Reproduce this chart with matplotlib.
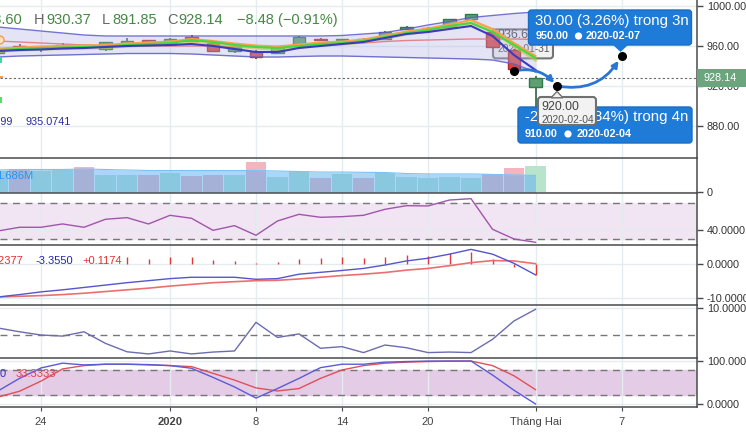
import numpy as np
import matplotlib.pyplot as plt
from matplotlib.patches import Rectangle, FancyBboxPatch, FancyArrowPatch, Polygon, Circle
from matplotlib.transforms import IdentityTransform

plt.rcParams['font.family'] = ['Liberation Sans', 'DejaVu Sans']

W, H = 746, 438

# trading days 20 Dec 2019 .. 3 Feb 2020 -> bar index 0..25
opens = [953, 960, 957.7, 957.7, 961, 957.3, 962.3, 965.7, 960.7, 969, 962.7, 955.3, 954.3,
         953.3, 960, 967, 966.3, 967.3, 967.3, 976.7, 977, 978.7, 986.7, 974.3, 956, 918.6]
highs = [958, 962, 959.3, 962.7, 961.5, 964, 968, 966, 968, 971.3, 963, 959, 956,
         960, 970, 968, 967.5, 968, 975, 980, 979, 987, 992, 978, 957, 930.37]
lows = [951, 958, 954.3, 957, 958, 955, 962, 960, 960, 964, 955, 953.3, 946.7,
        952, 959, 965, 966, 966, 966, 976, 976.5, 978, 986, 958, 935, 891.85]
closes = [957, 959, 958.3, 961, 959, 963.7, 965, 961, 967, 965.3, 955.3, 958.7, 948.7,
          959.3, 969.3, 965.7, 966.7, 966.7, 974, 979.3, 978.3, 986.7, 991.7, 959.3, 936.62, 928.14]

# overlays on price
bb_upper = [979, 977, 975, 973, 971, 970, 970, 970, 970, 970, 970, 970, 970,
            970, 970, 970, 970.5, 972, 973.5, 977, 981, 984.5, 988.5, 990.5, 992.5, 994]
bb_lower = [949, 950, 950.5, 951, 951.5, 952, 952.5, 952.5, 952.5, 952, 951, 950, 949,
            949, 949.5, 950, 950, 949.5, 949, 948.5, 948, 947.5, 947, 946, 942, 934]
ma_blue = [955, 956, 956.5, 957.5, 958, 959, 960, 960.5, 961, 962, 960, 957, 954,
           954, 958, 960, 962, 964, 968, 972, 974, 977, 980, 970, 951, 936]
ma_green = [956, 957, 958, 958.5, 959, 959.5, 961, 962, 963, 966, 964, 961, 959,
            958, 960, 962, 963, 965, 969, 973, 976, 980, 983, 974, 961, 948]
ma_orange = [957.5, 958.5, 959.5, 960, 960.5, 961, 962.5, 963.5, 964.5, 967, 965, 962.5, 960.5,
             959.5, 961.5, 963.5, 964.5, 966.5, 970.5, 974.5, 977.5, 981.5, 986, 977, 963, 950]
ma_yellow = [955, 956, 957, 957.5, 958, 958.5, 960, 961, 962, 965, 963, 960, 958,
             957, 959, 961, 962, 964, 968, 972, 975, 979, 983, 975, 960, 946]
ma_pink = [965, 964, 963, 962, 961, 960.5, 960, 960, 960, 960, 960, 959.5, 959,
           959.5, 960.5, 961, 962, 963, 964.5, 965.5, 966, 966.5, 967, 967, 967, 966.5]

# volume (millions) and its moving average
volume = [2.16, 2.33, 2.13, 2.23, 2.56, 1.74, 1.74, 1.74, 1.96, 1.64, 1.74, 1.74, 3.03,
          1.57, 2.13, 1.44, 1.84, 1.44, 1.96, 1.57, 1.47, 1.57, 1.47, 1.84, 2.43, 2.66]
vol_ma = [2.23, 2.28, 2.28, 2.28, 2.33, 2.28, 2.23, 2.18, 2.18, 2.18, 2.18, 2.18, 2.18,
          2.13, 2.08, 2.03, 2.03, 2.0, 1.98, 1.88, 1.84, 1.84, 1.84, 1.79, 1.74, 1.69]

rsi = [38.9, 43.0, 43.0, 46.7, 43.0, 51.9, 53.7, 46.7, 56.3, 53.0, 39.6, 44.8, 34.1,
       50.0, 57.4, 54.1, 54.8, 56.3, 63.0, 67.0, 66.7, 73.3, 74.8, 40.8, 30.0, 26.3]

macd = [-9.7, -9.0, -8.2, -7.6, -6.9, -6.2, -5.5, -4.9, -4.3, -3.9, -3.9, -3.9, -4.5,
        -4.3, -3.0, -2.45, -1.9, -1.3, -0.3, 0.9, 1.7, 2.9, 4.3, 2.9, 0.2, -3.2]
signal = [-9.7, -9.5, -9.3, -9.0, -8.6, -8.1, -7.6, -7.1, -6.5, -6.0, -5.5, -5.2, -4.9,
          -4.8, -4.4, -3.9, -3.4, -3.0, -2.5, -1.8, -1.3, -0.5, 0.4, 1.0, 0.9, 0.1]
hist = [np.nan] * 6 + [2.15, 1.38, 2.15, 2.15, 1.18, 0.97, 0.38, 0.68, 1.38, 1.68, 2.15,
                       1.68, 2.15, 2.65, 2.35, 3.14, 3.63, 1.47, -0.8, -3.3]

momentum = [2.6, 1.2, 0.0, -0.4, 1.2, -3.1, -6.2, -7.0, -5.9, -7.0, -6.3, -5.9, 4.7,
            -0.9, 0.4, -4.9, -4.3, -6.5, -3.7, -4.7, -6.5, -6.3, -6.5, -1.6, 5.2, 9.5]

stoch_k = [30.3, 59.6, 83.9, 95, 91, 92.6, 92.6, 91.8, 89.4, 83.2, 61.9, 39.7, 13.7,
           35.9, 59.6, 84.6, 92.6, 92.6, 97.4, 98.8, 100, 100, 100, 67.4, 31.9, 0]
stoch_d = [16.1, 29.6, 53.2, 81.6, 89.4, 92.6, 92.6, 91, 89.4, 87, 71.4, 55.6, 37.4,
           30.3, 35.9, 59.6, 79.2, 89.4, 95, 97.4, 98.8, 99.7, 100, 89.4, 65.7, 33.3]

# projection drawing (bar index, price)
proj_x = [24, 26, 29]
proj_y = [935, 920, 950]

tick_pos = [2, 8, 12, 16, 20, 25, 29]
tick_labels = ['24', '2020', '8', '14', '20', 'Tháng Hai', '7']

x = np.arange(len(closes))
XL, XR = 2 / 21.5, 699 / 21.5
LINE = '#4a4a4a'
GRID = '#e4ecf0'

fig = plt.figure(figsize=(W / 100, H / 100), dpi=100)


def pane(top, bottom, ylim, yticks, ylabels, last=False):
    ax = fig.add_axes([0, 1 - bottom / H, 697 / W, (bottom - top) / H])
    ax.set_xlim(XL, XR)
    ax.set_ylim(*ylim)
    ax.spines['left'].set_visible(False)
    ax.spines['bottom'].set_visible(last)
    for s in ['top', 'right', 'bottom']:
        ax.spines[s].set_color(LINE)
        ax.spines[s].set_linewidth(1.1)
    ax.yaxis.tick_right()
    ax.set_yticks(yticks)
    ax.set_yticklabels(ylabels)
    ax.tick_params(axis='y', length=4, width=1, color=LINE, labelsize=7.8,
                   labelcolor='#333333', pad=3)
    ax.set_xticks(tick_pos)
    if last:
        ax.set_xticklabels(tick_labels)
        ax.tick_params(axis='x', length=3, color=LINE, labelsize=8, labelcolor='#444444', pad=4)
        ax.get_xticklabels()[1].set_fontweight('bold')
    else:
        ax.tick_params(axis='x', length=0, labelbottom=False)
    ax.grid(True, color=GRID, lw=1)
    ax.set_axisbelow(True)
    return ax


def fig_text(px, py, s, **kw):
    fig.text(px / W, 1 - py / H, s, **kw)


# ---------------- price pane ----------------
ax = pane(0, 158, (848, 1006), [880, 920, 960, 1000],
          ['880.00', '920.00', '960.00', '1000.00'])
ax.spines['top'].set_visible(False)

ax.axhline(closes[-1], color='#666666', lw=0.8, ls=(0, (2, 2)), zorder=1.5)

for i in x:
    up = closes[i] >= opens[i]
    fc = '#5f9f72' if up else '#d8463f'
    ec = '#2f7a45' if up else '#b3262a'
    wk = '#24553a' if up else '#6e1e1e'
    ax.vlines(i, lows[i], highs[i], color=wk, lw=1.1, zorder=3)
    lo = min(opens[i], closes[i])
    ax.add_patch(Rectangle((i - 0.3, lo), 0.6, max(abs(closes[i] - opens[i]), 0.5),
                           fc=fc, ec=ec, lw=1, zorder=3))

ax.fill_between(x, bb_lower, bb_upper, color='#b4b4e6', alpha=0.35, lw=0, zorder=4)
ax.plot(x, bb_upper, color='#5c5cc8', lw=1, alpha=0.85, zorder=4.5)
ax.plot(x, bb_lower, color='#5c5cc8', lw=1, alpha=0.85, zorder=4.5)
ax.plot(x, ma_pink, color='#e57373', lw=1, alpha=0.85, zorder=5)
ax.plot(x, ma_yellow, color='#c8c43a', lw=2.4, alpha=0.6, zorder=5)
ax.plot(x, ma_orange, color='#f7a34a', lw=1.5, zorder=5)
ax.plot(x, ma_green, color='#45d845', lw=1.5, zorder=5)
ax.plot(x, ma_blue, color='#3b3bbf', lw=1.5, zorder=5)

# projection arrows
blue = '#2a76d2'
ax.add_patch(FancyArrowPatch((proj_x[0], proj_y[0]), (proj_x[1], proj_y[1]),
                             connectionstyle='arc3,rad=-0.3', arrowstyle='-|>',
                             mutation_scale=9, lw=2, color=blue, shrinkA=0, shrinkB=3,
                             zorder=8))
ax.add_patch(FancyArrowPatch((proj_x[1], proj_y[1]), (proj_x[2], proj_y[2]),
                             connectionstyle='arc3,rad=0.35', arrowstyle='-|>',
                             mutation_scale=9, lw=2, color=blue, shrinkA=0, shrinkB=4,
                             zorder=8))
ax.plot(proj_x, proj_y, 'o', color='black', ms=5.5, zorder=9)

ID = IdentityTransform()


def to_px(xv, yv):
    dx, dy = ax.transData.transform((xv, yv))
    return dx, H - dy


def box(x0, y0, x1, y1, fc, ec, lw, z, alpha=1.0):
    ax.add_patch(FancyBboxPatch((x0, H - y1), x1 - x0, y1 - y0,
                                boxstyle='round,pad=0,rounding_size=3', fc=fc, ec=ec,
                                lw=lw, alpha=alpha, transform=ID, zorder=z, clip_on=False))


def tri(pts, fc, ec, z):
    ax.add_patch(Polygon([(px, H - py) for px, py in pts], closed=True, fc=fc, ec=ec,
                         lw=1, transform=ID, zorder=z, clip_on=False))


def t(px, py, s, z=12, **kw):
    ax.text(px, H - py, s, transform=ID, va='center', zorder=z, **kw)


def clock(px, py, z):
    ax.add_patch(Circle((px, H - py), 3.6, fc='white', ec='none', transform=ID, zorder=z))


# gray label at 2020-01-31 close
ax0, ay0 = to_px(24, closes[24])
box(ax0 - 21, ay0 - 40, ax0 + 39, ay0 - 11, '#f2f2f2', '#6d6d6d', 1.5, 2.5, alpha=0.95)
t(ax0 - 17, ay0 - 34, '936.62', z=2.6, fontsize=8.9, color='#444444')
t(ax0 - 17, ay0 - 20, '2020-01-31', z=2.6, fontsize=7.4, color='#555555')

# top blue label (target 950 on 2020-02-07)
bx, by = to_px(proj_x[2], proj_y[2])
box(bx - 93, by - 46, bx + 70, by - 11, '#1f7bd8', '#1a6cc4', 1, 10)
tri([(bx - 8, by - 11.5), (bx + 6, by - 11.5), (bx - 1, by - 5)], '#1f7bd8', '#1f7bd8', 10)
t(bx - 87, by - 35.5, '30.00 (3.26%) trong 3n', fontsize=10.8, color='white')
t(bx - 86, by - 20, '950.00', fontsize=7.8, color='white', fontweight='bold')
clock(bx - 43, by - 20, 12)
t(bx - 36, by - 20, '2020-02-07', fontsize=7.8, color='white', fontweight='bold')

# bottom blue label (target 910 on 2020-02-04)
cx, cy = to_px(proj_x[1], 910)
box(cx - 39, cy + 11, cx + 135, cy + 47, '#1f7bd8', '#1a6cc4', 1, 10)
t(cx - 32, cy + 21.5, '-26.62 (-2.84%) trong 4n', fontsize=10.8, color='white')
t(cx - 32, cy + 38, '910.00', fontsize=7.8, color='white', fontweight='bold')
clock(cx + 11, cy + 38, 12)
t(cx + 20, cy + 38, '2020-02-04', fontsize=7.8, color='white', fontweight='bold')

# gray label at the 920 point
gx, gy = to_px(proj_x[1], proj_y[1])
box(gx - 19, gy + 11, gx + 39, gy + 39, '#f2f2f2', '#707070', 1.5, 13)
tri([(gx - 6, gy + 11.8), (gx + 6, gy + 11.8), (gx, gy + 5.5)], '#f2f2f2', '#707070', 13)
t(gx - 16, gy + 21, '920.00', z=14, fontsize=8.9, color='#444444')
t(gx - 16, gy + 34, '2020-02-04', z=14, fontsize=7.4, color='#555555')

# OHLC header
hdr = [(22, '918.60', '#448844', 'right'), (34, 'H', '#666666', 'left'),
       (46, '930.37', '#448844', 'left'), (102, 'L', '#666666', 'left'),
       (112, '891.85', '#448844', 'left'), (167, 'C', '#666666', 'left'),
       (178, '928.14', '#448844', 'left'), (237, '\u22128.48 (\u22120.91%)', '#448844', 'left')]
for px, s, c, ha in hdr:
    fig_text(px, 20, s, fontsize=10.5, color=c, ha=ha, va='center')
fig_text(13, 122, '948.1399', fontsize=7.8, color='#2b2ba0', ha='right', va='center')
fig_text(25, 122, '935.0741', fontsize=7.8, color='#2b2ba0', ha='left', va='center')

# cut-off legend icons on the left edge
fig.add_artist(Circle((0, H - 40), 4, fc='#fde0c0', ec='#f5a040', lw=1, transform=ID))
fig.add_artist(Rectangle((0, H - 63), 2, 6, fc='#3fd6a0', transform=ID))
fig.add_artist(Rectangle((0, H - 78), 3, 2, fc='#f5a040', transform=ID))
fig.add_artist(Rectangle((0, H - 103), 2, 6, fc='#55dd66', transform=ID))

# last price tag on the right axis
lx, ly = to_px(x[-1], closes[-1])
fig.add_artist(Rectangle((697, H - ly - 9), 49, 18, fc='#6ba57d', ec='none',
                         transform=ID, zorder=5))
fig_text(704, ly, '928.14', fontsize=7.8, color='white', va='center', zorder=6)

# ---------------- volume pane ----------------
av = pane(158, 193, (-0.05, 3.42), [0], ['0'])
vcol = ['#b9e4cc' if closes[i] >= opens[i] else '#f3b5bf' for i in x]
av.bar(x, volume, width=0.95, color=vcol, zorder=2)
av.fill_between(x, 0, vol_ma, color='#5aaef0', alpha=0.5, lw=0, zorder=3)
av.plot(x, vol_ma, color='#7cc2f4', lw=0.8, zorder=3)
fig_text(33, 176, '1.686M', fontsize=8, color='#2196f3', ha='right', va='center')

# ---------------- RSI pane ----------------
ar = pane(193, 245, (23.3, 81.1), [40], ['40.0000'])
ar.axhspan(30, 70, color='#f1e4f3', zorder=0.5)
ar.axhline(70, color='#777777', lw=1, ls=(0, (5, 4)))
ar.axhline(30, color='#777777', lw=1, ls=(0, (5, 4)))
ar.plot(x, rsi, color='#a056aa', lw=1, zorder=3)

# ---------------- MACD pane ----------------
am = pane(245, 305, (-12.06, 5.59), [0, -10], ['0.0000', '-10.0000'])
am.vlines(x, 0, hist, color='#e53935', lw=1, zorder=2)
am.plot(x, signal, color='#ec6f6f', lw=1.2, zorder=3)
am.plot(x, macd, color='#5555cc', lw=1, zorder=3)
fig_text(23, 261.5, '-3.2377', fontsize=8, color='#e03030', ha='right', va='center')
fig_text(35, 261.5, '-3.3550', fontsize=8, color='#2525b0', ha='left', va='center')
fig_text(82, 261.5, '+0.1174', fontsize=8, color='#e03030', ha='left', va='center')

# ---------------- momentum pane ----------------
ao = pane(305, 358, (-8.5, 11.1), [10], ['10.0000'])
ao.axhline(0, color='#777777', lw=1, ls=(0, (5, 4)))
ao.plot(x, momentum, color='#6c6cae', lw=1, zorder=3)

# ---------------- stochastic pane ----------------
ast = pane(358, 407, (-7.1, 107.1), [0, 100], ['0.0000', '100.0000'], last=True)
ast.axhspan(20, 80, color='#e4cbe6', zorder=0.5)
ast.axhline(80, color='#777777', lw=1, ls=(0, (5, 4)))
ast.axhline(20, color='#777777', lw=1, ls=(0, (5, 4)))
ast.plot(x, stoch_d, color='#e0505a', lw=1, zorder=3)
ast.plot(x, stoch_k, color='#5b5bd6', lw=1, zorder=3)
fig_text(6, 374, '0', fontsize=8, color='#3030c0', ha='right', va='center')
fig_text(16, 374, '33.3333', fontsize=8, color='#e04050', ha='left', va='center')

fig.savefig('out.png', dpi=100)
